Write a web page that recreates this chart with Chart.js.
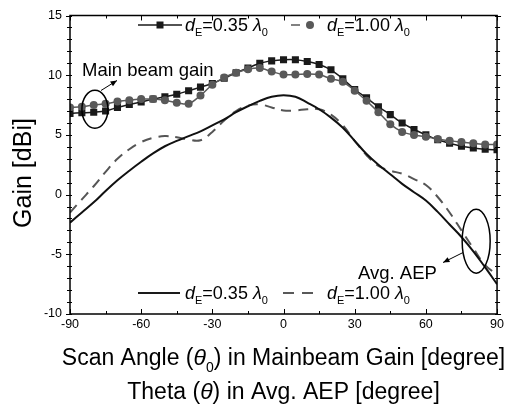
<!DOCTYPE html>
<html>
<head>
<meta charset="utf-8">
<script src="https://cdn.jsdelivr.net/npm/chart.js@4.4.1/dist/chart.umd.min.js"></script>
<style>
  html, body { margin: 0; padding: 0; background: #fff; }
  #wrap { width: 507px; height: 410px; position: relative; }
</style>
</head>
<body>
<div id="wrap"><canvas id="grafico"></canvas></div>
<script>
// scan angle / theta, degrees
const angles = [-90, -85, -80, -75, -70, -65, -60, -55, -50, -45, -40, -35, -30, -25, -20, -15, -10, -5,
    0, 5, 10, 15, 20, 25, 30, 35, 40, 45, 50, 55, 60, 65, 70, 75, 80, 85, 90];

// main beam gain [dBi]
const beamGain035 = [6.8, 6.85, 6.9, 7.0, 7.3, 7.55, 7.75, 8.0, 8.2, 8.4, 8.7, 9.0, 9.3, 9.75, 10.2, 10.6, 11.0, 11.2,
    11.3, 11.3, 11.15, 10.9, 10.45, 9.7, 8.8, 8.1, 7.35, 6.7, 6.0, 5.45, 5.0, 4.6, 4.3, 4.05, 3.9, 3.8, 3.75];
const beamGain100 = [7.3, 7.35, 7.5, 7.6, 7.8, 7.9, 8.0, 8.0, 7.9, 7.7, 7.6, 8.3, 9.2, 9.8, 10.2, 10.5, 10.6, 10.3,
    10.05, 10.05, 10.1, 10.05, 9.7, 9.45, 8.7, 7.85, 6.9, 5.9, 5.25, 5.0, 4.85, 4.65, 4.5, 4.4, 4.3, 4.2, 4.2];

// average active element pattern [dBi]
const aep035 = [-2.35, -1.5, -0.65, 0.3, 1.2, 2.0, 2.75, 3.45, 4.05, 4.5, 4.9, 5.3, 5.8, 6.3, 6.9, 7.4, 7.85, 8.2,
    8.33, 8.2, 7.7, 7.15, 6.45, 5.6, 4.5, 3.4, 2.5, 1.7, 0.9, 0.2, -0.5, -1.45, -2.5, -3.55, -4.75, -6.1, -7.5];
const aep100 = [-1.5, -0.4, 0.7, 1.9, 3.0, 3.8, 4.4, 4.75, 4.9, 4.8, 4.6, 4.55, 5.25, 6.2, 7.0, 7.45, 7.55, 7.3,
    7.05, 7.05, 7.15, 7.15, 6.7, 5.8, 4.5, 3.3, 2.4, 2.0, 1.75, 1.3, 0.8, -0.2, -1.5, -3.0, -4.5, -5.9, -6.7];

const xTicks = [-90, -60, -30, 0, 30, 60, 90];
const yTicks = [-10, -5, 0, 5, 10, 15];

const FONT = '"Liberation Sans", Arial, sans-serif';
const GREY = "#595959";
const BLACK = "#1a1a1a";

function pts(ys) {
    return angles.map((a, i) => ({ x: a, y: ys[i] }));
}

// text with italic / subscript pieces: [text, "i" | "s" | "is" | ""]
function drawRich(ctx, x, y, parts, size, align) {
    const fonts = parts.map(p => {
        const sub = p[1].includes("s");
        const it = p[1].includes("i");
        return (it ? "italic " : "") + (sub ? Math.round(size * 0.62) : size) + "px " + FONT;
    });
    let w = 0;
    parts.forEach((p, i) => { ctx.font = fonts[i]; w += ctx.measureText(p[0]).width; });
    let cx = align === "center" ? x - w / 2 : x;
    ctx.textAlign = "left";
    ctx.textBaseline = "alphabetic";
    parts.forEach((p, i) => {
        ctx.font = fonts[i];
        ctx.fillText(p[0], cx, y + (p[1].includes("s") ? size * 0.3 : 0));
        cx += ctx.measureText(p[0]).width;
    });
}

function arrow(ctx, x1, y1, x2, y2) {
    ctx.beginPath();
    ctx.moveTo(x1, y1);
    ctx.lineTo(x2, y2);
    ctx.stroke();
    const a = Math.atan2(y2 - y1, x2 - x1);
    ctx.beginPath();
    ctx.moveTo(x2, y2);
    ctx.lineTo(x2 - 7 * Math.cos(a - 0.4), y2 - 7 * Math.sin(a - 0.4));
    ctx.lineTo(x2 - 7 * Math.cos(a + 0.4), y2 - 7 * Math.sin(a + 0.4));
    ctx.closePath();
    ctx.fill();
}

const frame = {
    id: "frame",
    afterDatasetsDraw(chart) {
        const ctx = chart.ctx;
        const { left, right, top, bottom } = chart.chartArea;
        const sx = chart.scales.x, sy = chart.scales.y;
        ctx.save();
        ctx.strokeStyle = "#000";
        ctx.fillStyle = "#000";
        ctx.lineWidth = 1.5;
        ctx.strokeRect(left, top, right - left, bottom - top);

        // ticks
        ctx.lineWidth = 1;
        ctx.beginPath();
        for (let v = -90; v <= 90; v += 15) {
            const px = Math.round(sx.getPixelForValue(v)) + 0.5;
            const len = v % 30 === 0 ? 5 : 3;
            ctx.moveTo(px, bottom); ctx.lineTo(px, bottom - len);
            ctx.moveTo(px, top); ctx.lineTo(px, top + len);
        }
        for (let v = -10; v <= 15; v += 1) {
            const py = Math.round(sy.getPixelForValue(v)) + 0.5;
            const len = v % 5 === 0 ? 4 : 3;
            ctx.moveTo(left - len, py); ctx.lineTo(left + 2, py);
            ctx.moveTo(right - 2, py); ctx.lineTo(right + len, py);
        }
        ctx.stroke();

        // ellipses + arrows
        ctx.lineWidth = 1.5;
        ctx.beginPath();
        ctx.ellipse(sx.getPixelForValue(-79.5), sy.getPixelForValue(7.15), 13, 19, 0, 0, Math.PI * 2);
        ctx.stroke();
        ctx.beginPath();
        ctx.ellipse(sx.getPixelForValue(81.2), sy.getPixelForValue(-3.9), 14, 32, 0, 0, Math.PI * 2);
        ctx.stroke();
        ctx.lineWidth = 1;
        arrow(ctx, left + 31, top + 75, left + 47, top + 65);
        arrow(ctx, right - 34, top + 237, right - 54, top + 247);

        ctx.font = "18.5px " + FONT;
        ctx.textBaseline = "alphabetic";
        ctx.textAlign = "left";
        ctx.fillText("Main beam gain", left + 12, top + 60);
        ctx.fillText("Avg. AEP", left + 288, top + 263);

        // legends
        const s = 18;
        ctx.strokeStyle = BLACK;
        ctx.fillStyle = BLACK;
        ctx.lineWidth = 1.5;
        ctx.beginPath(); ctx.moveTo(138, 25); ctx.lineTo(182, 25); ctx.stroke();
        ctx.fillRect(156.5, 21.5, 7, 7);
        ctx.fillStyle = "#000";
        drawRich(ctx, 185, 31, [["d", "i"], ["E", "s"], ["=0.35 ", ""], ["\u03bb", "i"], ["0", "s"]], s);
        ctx.strokeStyle = GREY;
        ctx.fillStyle = GREY;
        ctx.beginPath(); ctx.moveTo(291, 25); ctx.lineTo(300, 25); ctx.stroke();
        ctx.beginPath(); ctx.arc(310, 25, 4, 0, Math.PI * 2); ctx.fill();
        ctx.fillStyle = "#000";
        drawRich(ctx, 327, 31, [["d", "i"], ["E", "s"], ["=1.00 ", ""], ["\u03bb", "i"], ["0", "s"]], s);

        ctx.strokeStyle = BLACK;
        ctx.lineWidth = 2;
        ctx.beginPath(); ctx.moveTo(138, 293); ctx.lineTo(180, 293); ctx.stroke();
        drawRich(ctx, 185, 299, [["d", "i"], ["E", "s"], ["=0.35 ", ""], ["\u03bb", "i"], ["0", "s"]], s);
        ctx.strokeStyle = GREY;
        ctx.beginPath();
        ctx.moveTo(283, 293); ctx.lineTo(294, 293);
        ctx.moveTo(302, 293); ctx.lineTo(313, 293);
        ctx.stroke();
        drawRich(ctx, 327, 299, [["d", "i"], ["E", "s"], ["=1.00 ", ""], ["\u03bb", "i"], ["0", "s"]], s);

        // axis titles
        const cx = (left + right) / 2;
        drawRich(ctx, cx, bottom + 51, [["Scan Angle (", ""], ["\u03b8", "i"], ["0", "s"], [") in Mainbeam Gain [degree]", ""]], 23, "center");
        drawRich(ctx, cx, bottom + 85, [["Theta (", ""], ["\u03b8", "i"], [") in Avg. AEP [degree]", ""]], 23, "center");
        ctx.translate(31, 173);
        ctx.rotate(-Math.PI / 2);
        ctx.font = "25px " + FONT;
        ctx.textAlign = "center";
        ctx.fillText("Gain [dBi]", 0, 0);
        ctx.restore();
    }
};

const ctx = document.getElementById("grafico");

new Chart(ctx, {
    type: "line",
    data: {
        datasets: [{
            label: "dE=1.00 main beam",
            data: pts(beamGain100),
            borderColor: GREY,
            backgroundColor: GREY,
            borderWidth: 1.5,
            pointStyle: "circle",
            pointRadius: 4,
            pointBorderWidth: 0,
            tension: 0.3
        }, {
            label: "dE=0.35 main beam",
            data: pts(beamGain035),
            borderColor: BLACK,
            backgroundColor: BLACK,
            borderWidth: 1.5,
            pointStyle: "rect",
            pointRadius: 5,
            pointBorderWidth: 0,
            tension: 0.3
        }, {
            label: "dE=0.35 AEP",
            data: pts(aep035),
            borderColor: "#111",
            borderWidth: 2,
            pointRadius: 0,
            tension: 0.4
        }, {
            label: "dE=1.00 AEP",
            data: pts(aep100),
            borderColor: "#555",
            borderWidth: 2,
            borderDash: [10, 7],
            pointRadius: 0,
            tension: 0.4
        }]
    },
    options: {
        responsive: true,
        maintainAspectRatio: false,
        animation: false,
        layout: { padding: { left: 0, top: 10, right: 7, bottom: 0 } },
        plugins: {
            legend: { display: false },
            tooltip: { enabled: false }
        },
        scales: {
            x: {
                type: "linear",
                min: -90,
                max: 90,
                afterBuildTicks: s => { s.ticks = xTicks.map(v => ({ value: v })); },
                afterFit: s => { s.height = 96; },
                ticks: { color: "#000", font: { size: 12.5, family: FONT }, padding: 3, maxRotation: 0 },
                grid: { display: false, drawTicks: false },
                border: { display: false }
            },
            y: {
                min: -10,
                max: 15,
                afterBuildTicks: s => { s.ticks = yTicks.map(v => ({ value: v })); },
                afterFit: s => { s.width = 70; },
                ticks: { color: "#000", font: { size: 12.5, family: FONT }, padding: 8 },
                grid: { display: false, drawTicks: false },
                border: { display: false }
            }
        }
    },
    plugins: [frame]
});
</script>
</body>
</html>
